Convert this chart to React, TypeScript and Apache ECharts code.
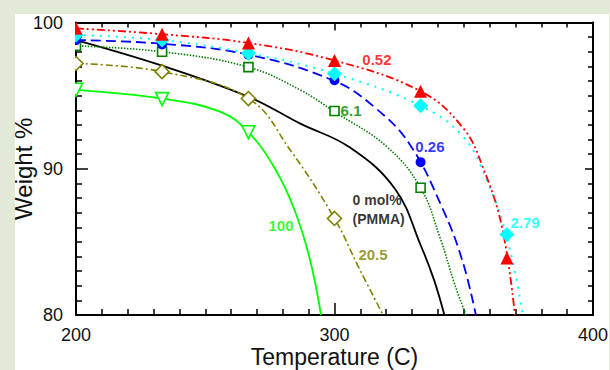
import React, { useEffect, useRef } from "react";
import * as echarts from "echarts";

// Marker temperatures (C)
const markerTemps = [200, 233.3, 266.7, 300, 333.3, 366.7];

// Marker weights (%) per composition (mol%)
const red052 = [99.6, 99.2, 98.6, 97.4, 95.3, 83.9];
const cyan279 = [99.15, 98.8, 97.9, 96.5, 94.3, 85.5];
const blue026 = [98.8, 98.5, 97.8, 96.05, 90.45];
const green61 = [98.4, 98.0, 96.95, 93.95, 88.7];
const olive205 = [97.2, 96.64, 94.8, 86.6];
const lime100 = [95.4, 94.76, 92.5];

// Fitted curves: [T, W]
const curve052 = [[200, 99.6], [233.3, 99.2], [266.7, 98.6], [300, 97.4], [333.3, 95.3], [349.7, 92.8], [357.4, 90.1], [364.8, 86.0], [369.8, 80]];
const curve279 = [[200, 99.15], [233.3, 98.8], [266.7, 97.9], [300, 96.5], [333.3, 94.3], [349.7, 92.2], [359, 89.2], [366.7, 85.3], [372.9, 80]];
const curve026 = [[200, 98.8], [233.3, 98.55], [266.7, 97.8], [300, 96.0], [315.5, 94.2], [329, 91.7], [342, 87.2], [349.5, 83.7], [354.7, 80]];
const curve61 = [[200, 98.4], [233.3, 98.0], [266.7, 96.95], [286.6, 95.4], [300, 93.9], [320.3, 91.5], [333.3, 88.7], [340.8, 85.3], [346.5, 82.1], [350.9, 80]];
const curve205 = [[200, 97.2], [233.3, 96.64], [266.7, 94.8], [282.8, 91.3], [300, 86.6], [309.5, 83.2], [318.8, 80]];
const curve100 = [[200, 95.4], [233.3, 94.8], [255.7, 93.9], [266.7, 92.5], [277, 90.0], [284.5, 87.2], [290.5, 83.8], [294.8, 80]];
const curve0 = [[200, 98.8], [233.3, 97.05], [267, 94.9], [286.6, 93.1], [306, 91.45], [323.5, 88.6], [333.5, 84.7], [338.5, 82.4], [342.5, 80]];

// Curve labels: [text, T, W, color]
const curveLabels: [string, number, number, string][] = [
  ["0.52", 316.4, 97.44, "#ff0000"],
  ["6.1", 306.4, 94.0, "#008000"],
  ["0.26", 336.9, 91.55, "#0000ff"],
  ["2.79", 373.7, 86.3, "#00ffff"],
  ["100", 279.3, 86.15, "#00ff00"],
  ["20.5", 314.9, 84.17, "#808000"],
];
const pmmaLabel = { text: "0 mol%\n(PMMA)", T: 306.8, W: 87.18 };

const xTicks = { min: 200, max: 400, interval: 100 };
const yTicks = { min: 80, max: 100, interval: 10 };

const FONT = "'Liberation Sans', Arial, sans-serif";

function pts(temps: number[], vals: number[]) {
  return vals.map((v, i) => [temps[i], v]);
}

export default function App() {
  const ref = useRef<HTMLDivElement>(null);
  useEffect(() => {
    if (!ref.current) return;
    const chart = echarts.init(ref.current, undefined, { renderer: "svg" });

    const curveSeries = (data: number[][], color: string, width: number, type: any) => ({
      type: "line",
      data,
      smooth: 0.4,
      showSymbol: false,
      symbol: "none",
      xAxisIndex: 0,
      yAxisIndex: 0,
      lineStyle: { color, width, type },
      silent: true,
      z: 2,
    });
    const markerSeries = (data: number[][], symbol: string, size: number, fill: string, stroke: string, rotate = 0) => ({
      type: "scatter",
      data,
      symbol,
      symbolSize: size,
      symbolRotate: rotate,
      itemStyle: { color: fill, borderColor: stroke, borderWidth: fill === "#ffffff" ? 1.6 : 0, opacity: 1 },
      silent: true,
      z: 3,
    });

    const axisCommon = {
      type: "value",
      splitLine: { show: false },
      axisLine: { show: true, onZero: false, lineStyle: { color: "#000", width: 2 } },
    };

    chart.setOption({
      animation: false,
      backgroundColor: "transparent",
      grid: { left: 76, right: 17, top: 22.5, bottom: 55, containLabel: false, outerBoundsMode: "none" },
      xAxis: [
        {
          ...axisCommon,
          ...xTicks,
          position: "bottom",
          axisTick: { show: true, inside: true, length: 12, lineStyle: { color: "#000", width: 1.5 } },
          minorTick: { show: true, splitNumber: 10, length: 6, lineStyle: { color: "#000", width: 1.5 } },
          axisLabel: { fontSize: 18, lineHeight: 16, color: "#111", margin: 12, fontFamily: FONT },
          name: "Temperature (C)",
          nameLocation: "middle",
          nameGap: 31,
          nameMoveOverlap: false,
          nameTextStyle: { fontSize: 23, lineHeight: 22, color: "#111", fontFamily: FONT },
        },
        {
          ...axisCommon,
          ...xTicks,
          position: "top",
          axisTick: { show: true, inside: true, length: 8, lineStyle: { color: "#000", width: 1.5 } },
          minorTick: { show: true, splitNumber: 10, length: 5, lineStyle: { color: "#000", width: 1.5 } },
          axisLabel: { show: false },
        },
      ],
      yAxis: [
        {
          ...axisCommon,
          ...yTicks,
          position: "left",
          axisTick: { show: true, inside: true, length: 12, lineStyle: { color: "#000", width: 1.5 } },
          minorTick: { show: true, splitNumber: 10, length: 6, lineStyle: { color: "#000", width: 1.5 } },
          axisLabel: { fontSize: 18, color: "#111", margin: 13, fontFamily: FONT },
          name: "Weight %",
          nameLocation: "middle",
          nameGap: 41,
          nameMoveOverlap: false,
          nameTextStyle: { fontSize: 24, color: "#111", fontFamily: FONT },
        },
        {
          ...axisCommon,
          ...yTicks,
          position: "right",
          axisTick: { show: true, inside: true, length: 8, lineStyle: { color: "#000", width: 1.5 } },
          minorTick: { show: true, splitNumber: 10, length: 5, lineStyle: { color: "#000", width: 1.5 } },
          axisLabel: { show: false },
        },
      ],
      series: [
        curveSeries(curve0, "#000000", 1.8, "solid"),
        curveSeries(curve100, "#00ff00", 1.8, "solid"),
        curveSeries(curve205, "#808000", 1.6, [7, 3, 2, 3]),
        curveSeries(curve61, "#008000", 1.6, [1.5, 1.5]),
        curveSeries(curve026, "#0000ff", 1.8, [10, 5]),
        curveSeries(curve279, "#00ffff", 2, [2, 6]),
        curveSeries(curve052, "#ff0000", 1.8, [8, 3, 2, 3, 2, 3]),
        markerSeries(pts(markerTemps, lime100), "triangle", 13, "#ffffff", "#00ff00", 180),
        markerSeries(pts(markerTemps, olive205), "diamond", 14, "#ffffff", "#808000"),
        markerSeries(pts(markerTemps, green61), "rect", 9, "#ffffff", "#008000"),
        markerSeries(pts(markerTemps, blue026), "circle", 10, "#0000ff", "#0000ff"),
        markerSeries(pts(markerTemps, cyan279), "diamond", 15, "#00ffff", "#00ffff"),
        markerSeries(pts(markerTemps, red052), "triangle", 13, "#ff0000", "#ff0000"),
        {
          type: "scatter",
          symbolSize: 1,
          itemStyle: { color: "rgba(0,0,0,0)" },
          silent: true,
          z: 5,
          data: curveLabels.map(([t, x, y, c]) => ({
            value: [x, y],
            label: {
              show: true,
              position: "inside",
              formatter: t,
              color: c,
              fontSize: 15,
              fontWeight: "bold",
              fontFamily: FONT,
            },
          })),
        },
        {
          type: "scatter",
          symbolSize: 1,
          itemStyle: { color: "rgba(0,0,0,0)" },
          silent: true,
          z: 5,
          data: [
            {
              value: [pmmaLabel.T, pmmaLabel.W],
              label: {
                show: true,
                position: "right",
                distance: 0,
                formatter: pmmaLabel.text,
                color: "#000",
                fontSize: 14,
                lineHeight: 19,
                fontWeight: "bold",
                fontFamily: FONT,
                align: "left",
              },
            },
          ],
        },
      ],
      graphic: [
        {
          type: "rect",
          shape: { x: 64, y: 14, width: 11, height: 90 },
          style: { fill: "#ffffff" },
          z: 100,
          silent: true,
        },
      ],
    });
    return () => chart.dispose();
  }, []);

  return (
    <div style={{ position: "fixed", left: 0, top: 0, width: 610, height: 370, background: "#e0ead6", overflow: "hidden" }}>
      <div style={{ position: "absolute", left: 15, top: 14, width: 594, height: 356, background: "#ffffff" }} />
      <div ref={ref} style={{ position: "absolute", left: 0, top: 0, width: 610, height: 370 }} />
    </div>
  );
}
